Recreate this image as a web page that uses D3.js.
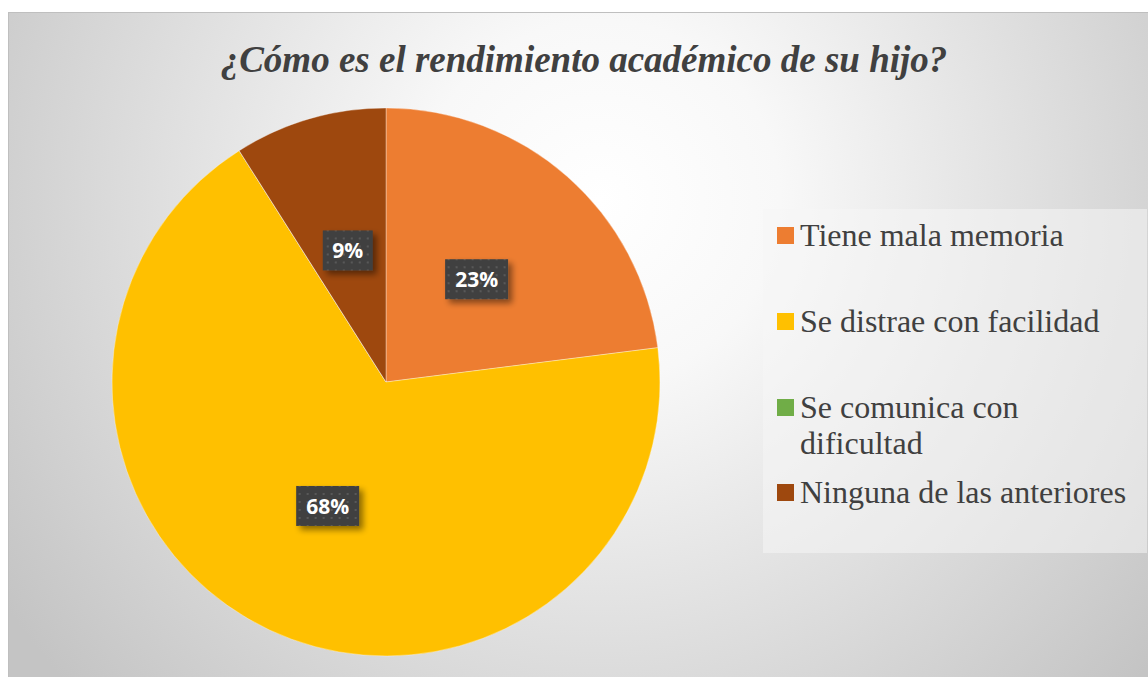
<!DOCTYPE html>
<html>
<head>
<meta charset="utf-8">
<script src="https://cdn.jsdelivr.net/npm/d3@7"></script>
<style>
  body { margin: 0; background: #fff; }
  svg { display: block; }
</style>
</head>
<body>
<div id="chart"></div>
<script>
// chart values
var title = "¿Cómo es el rendimiento académico de su hijo?";
var categories = ["Tiene mala memoria", "Se distrae con facilidad", "Se comunica con dificultad", "Ninguna de las anteriores"];
var values = [23, 68, 0, 9];
var colors = ["#ED7D31", "#FFC000", "#70AD47", "#9E480E"];
// legend text, split the way the picture wraps it
var legendLines = [["Tiene mala memoria"], ["Se distrae con facilidad"], ["Se comunica con", "dificultad"], ["Ninguna de las anteriores"]];

var width = 1148, height = 677;
var centerX = 386, centerY = 382, radius = 274;

var svg = d3.select('#chart')
  .append('svg')
  .attr('width', width)
  .attr('height', height);

var defs = svg.append('defs');

var bg = defs.append('radialGradient')
  .attr('id', 'bg')
  .attr('gradientUnits', 'userSpaceOnUse')
  .attr('cx', 600).attr('cy', 200).attr('r', 720);
bg.append('stop').attr('offset', '0%').attr('stop-color', '#ffffff');
bg.append('stop').attr('offset', '25%').attr('stop-color', '#f8f8f8');
bg.append('stop').attr('offset', '100%').attr('stop-color', '#c4c4c4');

var dots = defs.append('pattern')
  .attr('id', 'dots')
  .attr('patternUnits', 'userSpaceOnUse')
  .attr('width', 8).attr('height', 8);
dots.append('rect').attr('width', 8).attr('height', 8).attr('fill', '#404040');
dots.append('rect').attr('x', 3).attr('y', 3).attr('width', 2).attr('height', 2).attr('fill', '#595959');

var shadow = defs.append('filter')
  .attr('id', 'shadow')
  .attr('x', '-30%').attr('y', '-30%').attr('width', '160%').attr('height', '160%');
shadow.append('feGaussianBlur').attr('in', 'SourceAlpha').attr('stdDeviation', 3);
shadow.append('feOffset').attr('dx', 4).attr('dy', 4).attr('result', 'off');
shadow.append('feComponentTransfer').append('feFuncA').attr('type', 'linear').attr('slope', 0.45);
var merge = shadow.append('feMerge');
merge.append('feMergeNode');
merge.append('feMergeNode').attr('in', 'SourceGraphic');

// chart area
svg.append('rect')
  .attr('x', 8.5).attr('y', 12.5)
  .attr('width', width).attr('height', height)
  .attr('fill', 'url(#bg)')
  .attr('stroke', '#bfbfbf')
  .attr('stroke-width', 1);

svg.append('text')
  .attr('x', 584)
  .attr('y', 72)
  .attr('text-anchor', 'middle')
  .style('font-family', '"Liberation Serif", "Times New Roman", serif')
  .style('font-style', 'italic')
  .style('font-weight', 'bold')
  .style('font-size', '37px')
  .style('fill', '#404040')
  .text(title);

// pie
var pie = d3.pie().sort(null).value(function(d) { return d; });
var arc = d3.arc().innerRadius(0).outerRadius(radius);
var labelArc = d3.arc().innerRadius(0).outerRadius(radius);

var arcs = pie(values);

var g = svg.append('g')
  .attr('transform', `translate(${centerX},${centerY})`);

g.selectAll('.slice')
  .data(arcs)
  .enter()
  .append('path')
  .classed('slice', true)
  .attr('d', arc)
  .attr('fill', function(d, i) { return colors[i]; })
  .attr('stroke', 'rgba(255,255,255,0.35)')
  .attr('stroke-width', 1);

var fmt = function(v) { return Math.round(v) + '%'; };

var labels = g.selectAll('.label')
  .data(arcs.filter(function(d) { return d.value > 0; }))
  .enter()
  .append('g')
  .classed('label', true)
  .attr('transform', function(d) {
    var c = labelArc.centroid(d);
    return `translate(${c[0]},${c[1]})`;
  });

labels.each(function(d) {
  var lg = d3.select(this);
  var txt = fmt(d.value);
  var w = txt.length === 2 ? 50 : 63;
  var h = 40;
  lg.append('rect')
    .attr('x', -w / 2).attr('y', -h / 2)
    .attr('width', w).attr('height', h)
    .attr('fill', 'url(#dots)')
    .attr('filter', 'url(#shadow)');
  lg.append('text')
    .attr('y', 8)
    .attr('text-anchor', 'middle')
    .style('font-family', '"Open Sans", "Noto Sans", sans-serif')
    .style('font-weight', 'bold')
    .style('font-size', '21px')
    .style('fill', '#ffffff')
    .text(txt);
});

// legend
var legend = svg.append('g');
legend.append('rect')
  .attr('x', 763).attr('y', 209)
  .attr('width', 384).attr('height', 344)
  .attr('fill', 'rgba(245,245,245,0.55)');

var legendY = [246, 332, 418, 503];

var items = legend.selectAll('.legend-item')
  .data(categories)
  .enter()
  .append('g')
  .classed('legend-item', true)
  .attr('transform', function(d, i) { return `translate(777,${legendY[i]})`; });

items.append('rect')
  .attr('x', 0).attr('y', -19)
  .attr('width', 17).attr('height', 17)
  .attr('fill', function(d, i) { return colors[i]; });

items.append('text')
  .style('font-family', '"Liberation Serif", "Times New Roman", serif')
  .style('font-size', '32px')
  .style('fill', '#404040')
  .each(function(d, i) {
    var t = d3.select(this);
    legendLines[i].forEach(function(line, j) {
      t.append('tspan')
        .attr('x', 23)
        .attr('y', j * 36)
        .text(line);
    });
  });
</script>
</body>
</html>
